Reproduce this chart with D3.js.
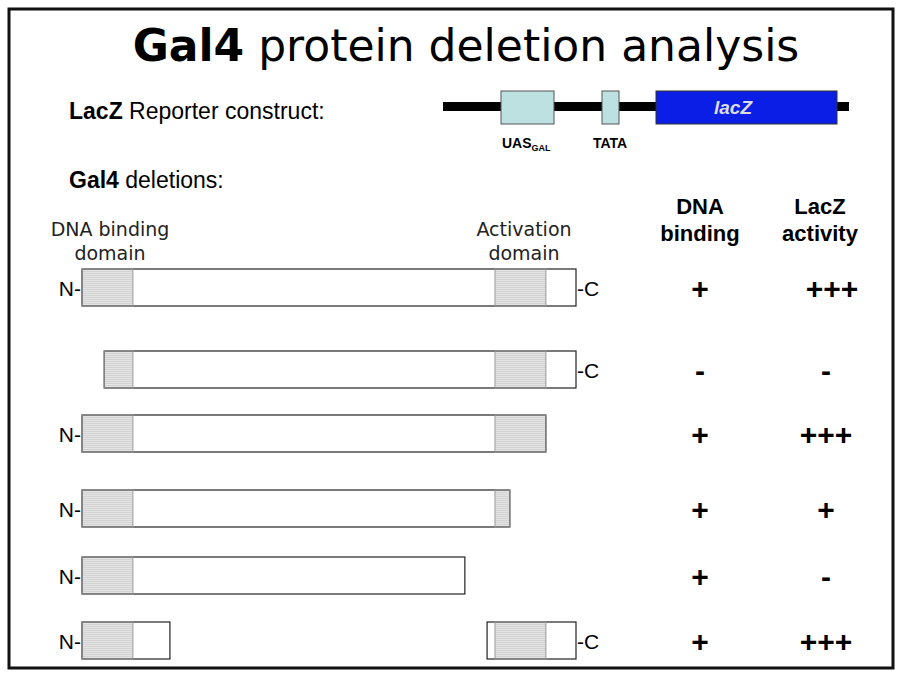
<!DOCTYPE html>
<html><head><meta charset="utf-8">
<script src="https://cdn.jsdelivr.net/npm/d3@7"></script>
<style>body{margin:0;background:#fff}</style>
</head><body>
<svg id="fig"></svg>
<script>
// protein positions in % of full-length Gal4
var dbdEnd = 10.3, actStart = 83.6, actEnd = 93.9;
var starts = [0, 4.5, 0, 0, 0, 0];
var ends = [100, 100, 93.9, 86.6, 77.5, 17.8];
var extraStart = [null, null, null, null, null, 82];   // second fragment on last row
var hasN = [true, false, true, true, true, true];
var hasC = [true, true, false, false, false, true];
var dnaBinding = ["+", "-", "+", "+", "+", "+"];
var lacz = ["+++", "-", "+++", "+", "-", "+++"];
var rowTops = [269, 351, 415, 490, 557, 622];

var width = 900, height = 676;
var svg = d3.select("svg#fig").attr("width", width).attr("height", height);

var defs = svg.append("defs");
var pat = defs.append("pattern").attr("id", "hatch").attr("patternUnits", "userSpaceOnUse")
    .attr("width", 4).attr("height", 2);
pat.append("rect").attr("width", 4).attr("height", 2).attr("fill", "#e4e4e4");
pat.append("rect").attr("width", 4).attr("height", 1).attr("fill", "#d2d2d2");

svg.append("rect").attr("x", 9).attr("y", 9).attr("width", 884).attr("height", 659)
    .attr("fill", "none").attr("stroke", "#111").attr("stroke-width", 3);

var title = svg.append("text").attr("x", 466).attr("y", 61).attr("text-anchor", "middle")
    .style("font-family", "DejaVu Sans").style("font-size", "44px");
title.append("tspan").attr("font-weight", "bold").text("Gal4");
title.append("tspan").text(" protein deletion analysis");

var lab = "Liberation Sans";
var t1 = svg.append("text").attr("x", 69).attr("y", 119).style("font-family", lab).style("font-size", "23px");
t1.append("tspan").attr("font-weight", "bold").text("LacZ");
t1.append("tspan").text(" Reporter construct:");
var t2 = svg.append("text").attr("x", 69).attr("y", 188).style("font-family", lab).style("font-size", "23px");
t2.append("tspan").attr("font-weight", "bold").text("Gal4");
t2.append("tspan").text(" deletions:");

// reporter construct
svg.append("rect").attr("x", 443).attr("y", 102).attr("width", 406).attr("height", 9).attr("fill", "#000");
svg.append("rect").attr("x", 501).attr("y", 91).attr("width", 53).attr("height", 33)
    .attr("fill", "#bde0e0").attr("stroke", "#555");
svg.append("rect").attr("x", 602).attr("y", 91).attr("width", 17).attr("height", 33)
    .attr("fill", "#bde0e0").attr("stroke", "#555");
svg.append("rect").attr("x", 656).attr("y", 91).attr("width", 181).attr("height", 33)
    .attr("fill", "#0a1ee6").attr("stroke", "#333");
svg.append("text").attr("x", 733).attr("y", 114).attr("text-anchor", "middle").attr("fill", "#ddd")
    .style("font-family", lab).style("font-size", "19px").style("font-weight", "bold").style("font-style", "italic").text("lacZ");
var uas = svg.append("text").attr("x", 502).attr("y", 148).style("font-family", lab)
    .style("font-size", "14px").style("font-weight", "bold");
uas.append("tspan").text("UAS");
uas.append("tspan").attr("dy", 3).style("font-size", "9px").text("GAL");
svg.append("text").attr("x", 593).attr("y", 148).style("font-family", lab)
    .style("font-size", "14px").style("font-weight", "bold").text("TATA");

// domain labels
var dj = "DejaVu Sans";
[["DNA binding", 110, 236], ["domain", 110, 260], ["Activation", 524, 236], ["domain", 524, 260]].forEach(function (d) {
    svg.append("text").attr("x", d[1]).attr("y", d[2]).attr("text-anchor", "middle").attr("fill", "#222")
        .style("font-family", dj).style("font-size", "19px").text(d[0]);
});
[["DNA", 700, 214], ["binding", 700, 241], ["LacZ", 820, 214], ["activity", 820, 241]].forEach(function (d) {
    svg.append("text").attr("x", d[1]).attr("y", d[2]).attr("text-anchor", "middle")
        .style("font-family", lab).style("font-size", "22px").style("font-weight", "bold").text(d[0]);
});

var x = d3.scaleLinear().domain([0, 100]).range([82, 576]);
var h = 37;

function fragment(g, a, b) {
    g.append("rect").attr("x", x(a)).attr("y", 0).attr("width", x(b) - x(a)).attr("height", h).attr("fill", "#fff");
    [[0, dbdEnd], [actStart, actEnd]].forEach(function (dom) {
        var s = Math.max(a, dom[0]), e = Math.min(b, dom[1]);
        if (e > s) g.append("rect").attr("x", x(s)).attr("y", 0).attr("width", x(e) - x(s)).attr("height", h)
            .attr("fill", "url(#hatch)");
    });
    g.append("rect").attr("x", x(a)).attr("y", 0).attr("width", x(b) - x(a)).attr("height", h)
        .attr("fill", "none").attr("stroke", "#222").attr("stroke-width", 1.2);
    [[0, dbdEnd], [actStart, actEnd]].forEach(function (dom) {
        var s = Math.max(a, dom[0]), e = Math.min(b, dom[1]);
        if (e > s) g.append("rect").attr("x", x(s)).attr("y", 0).attr("width", x(e) - x(s)).attr("height", h)
            .attr("fill", "none").attr("stroke", "#999");
    });
}

rowTops.forEach(function (top, i) {
    var g = svg.append("g").attr("transform", "translate(0," + top + ")");
    fragment(g, starts[i], ends[i]);
    if (extraStart[i] !== null) fragment(g, extraStart[i], 100);
    var cy = h / 2 + 8;
    if (hasN[i]) g.append("text").attr("x", x(starts[i]) - 1).attr("y", cy).attr("text-anchor", "end")
        .style("font-family", lab).style("font-size", "21px").text("N-");
    if (hasC[i]) g.append("text").attr("x", x(100) + 1).attr("y", cy)
        .style("font-family", lab).style("font-size", "21px").text("-C");
    g.append("text").attr("x", 700).attr("y", h / 2 + 11).attr("text-anchor", "middle")
        .style("font-family", lab).style("font-size", "30px").style("font-weight", "bold").text(dnaBinding[i]);
    g.append("text").attr("x", i === 0 ? 832 : 826).attr("y", h / 2 + 11).attr("text-anchor", "middle")
        .style("font-family", lab).style("font-size", "30px").style("font-weight", "bold").text(lacz[i]);
});
</script>
</body></html>
